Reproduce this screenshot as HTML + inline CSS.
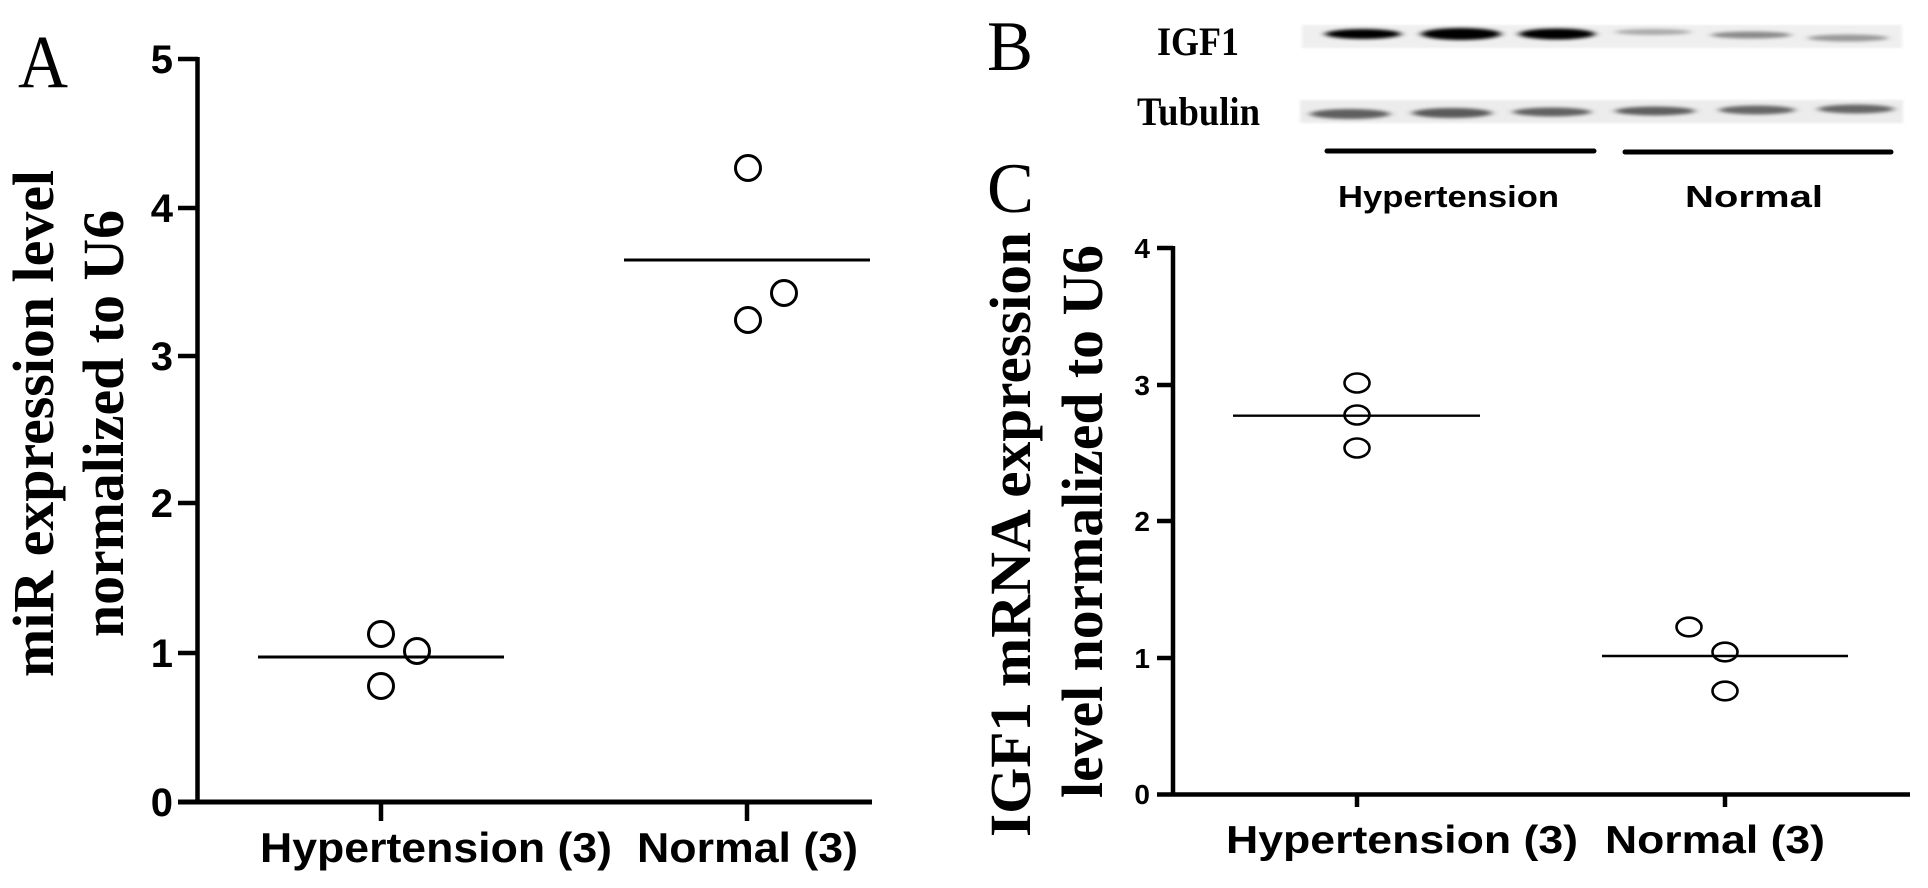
<!DOCTYPE html>
<html>
<head>
<meta charset="utf-8">
<style>
html,body{margin:0;padding:0;background:#fff;}
svg{display:block;}
</style>
</head>
<body>
<svg width="1928" height="888" viewBox="0 0 1928 888" xmlns="http://www.w3.org/2000/svg">
<defs>
  <filter id="bl" x="-20%" y="-200%" width="140%" height="500%">
    <feGaussianBlur stdDeviation="4 1.6"/>
  </filter>
  <filter id="bl2" x="-5%" y="-50%" width="110%" height="200%">
    <feGaussianBlur stdDeviation="1.5 1"/>
  </filter>
</defs>
<rect width="1928" height="888" fill="#fff"/>

<!-- ================= PANEL A ================= -->
<text x="18" y="87" font-family="Liberation Serif, serif" font-size="75" textLength="50" lengthAdjust="spacingAndGlyphs">A</text>

<g font-family="Liberation Serif, serif" font-weight="bold" font-size="58" fill="#000">
  <text transform="translate(53,677) rotate(-90)" x="0" y="0" textLength="507" lengthAdjust="spacingAndGlyphs">miR expression level</text>
  <text transform="translate(123,637) rotate(-90)" x="0" y="0" textLength="427" lengthAdjust="spacingAndGlyphs">normalized to U6</text>
</g>

<g font-family="Liberation Sans, sans-serif" font-weight="bold" font-size="40" text-anchor="end" fill="#000">
  <text x="173" y="73">5</text>
  <text x="173" y="222">4</text>
  <text x="173" y="370">3</text>
  <text x="173" y="517">2</text>
  <text x="173" y="667">1</text>
  <text x="173" y="816">0</text>
</g>

<g stroke="#000" stroke-width="4.5" fill="none">
  <line x1="197.5" y1="57" x2="197.5" y2="804"/>
  <line x1="178" y1="59" x2="198" y2="59"/>
  <line x1="178" y1="208" x2="198" y2="208"/>
  <line x1="178" y1="356" x2="198" y2="356"/>
  <line x1="178" y1="503" x2="198" y2="503"/>
  <line x1="178" y1="653" x2="198" y2="653"/>
  <line x1="178" y1="802" x2="872" y2="802" stroke-width="5"/>
  <line x1="381" y1="802" x2="381" y2="821"/>
  <line x1="747" y1="802" x2="747" y2="821"/>
</g>

<g stroke="#000" stroke-width="3" fill="none">
  <line x1="258" y1="657" x2="504" y2="657"/>
  <line x1="624" y1="260" x2="870" y2="260"/>
  <circle cx="381" cy="634" r="12.5" fill="#fff"/>
  <circle cx="417" cy="651" r="12.5" fill="#fff"/>
  <circle cx="381" cy="686" r="12.5" fill="#fff"/>
  <circle cx="748" cy="168" r="12.5" fill="#fff"/>
  <circle cx="784" cy="293" r="12.5" fill="#fff"/>
  <circle cx="748" cy="320" r="12.5" fill="#fff"/>
</g>
<line x1="258" y1="657" x2="504" y2="657" stroke="#000" stroke-width="3"/>
<line x1="624" y1="260" x2="870" y2="260" stroke="#000" stroke-width="3"/>

<g font-family="Liberation Sans, sans-serif" font-weight="bold" font-size="42" fill="#000">
  <text x="260" y="862" textLength="352" lengthAdjust="spacingAndGlyphs">Hypertension (3)</text>
  <text x="637" y="862" textLength="221" lengthAdjust="spacingAndGlyphs">Normal (3)</text>
</g>

<!-- ================= PANEL B ================= -->
<text x="987" y="70" font-family="Liberation Serif, serif" font-size="71" textLength="46" lengthAdjust="spacingAndGlyphs">B</text>
<g font-family="Liberation Serif, serif" font-weight="bold" font-size="40" fill="#000">
  <text x="1157" y="55" textLength="82" lengthAdjust="spacingAndGlyphs">IGF1</text>
  <text x="1137" y="125" textLength="123" lengthAdjust="spacingAndGlyphs">Tubulin</text>
</g>

<!-- blot strips -->
<rect x="1302" y="25" width="600" height="23" fill="#efefef" filter="url(#bl2)"/>
<rect x="1300" y="100" width="603" height="23" fill="#ececec" filter="url(#bl2)"/>

<g filter="url(#bl)">
  <ellipse cx="1363" cy="34" rx="38" ry="5" fill="#000"/>
  <ellipse cx="1461" cy="34" rx="40" ry="6" fill="#000"/>
  <ellipse cx="1557" cy="34" rx="38" ry="5.5" fill="#000"/>
  <ellipse cx="1653" cy="32" rx="38" ry="3" fill="#aaa"/>
  <ellipse cx="1751" cy="35" rx="40" ry="3.5" fill="#8a8a8a"/>
  <ellipse cx="1848" cy="38" rx="40" ry="3.5" fill="#9a9a9a"/>

  <ellipse cx="1350" cy="114" rx="40" ry="5" fill="#5e5e5e"/>
  <ellipse cx="1452" cy="113" rx="40" ry="5" fill="#5a5a5a"/>
  <ellipse cx="1552" cy="112" rx="39" ry="4.5" fill="#626262"/>
  <ellipse cx="1655" cy="111" rx="40" ry="4.5" fill="#5e5e5e"/>
  <ellipse cx="1757" cy="110" rx="38" ry="4.5" fill="#666"/>
  <ellipse cx="1856" cy="109" rx="38" ry="4.5" fill="#666"/>
</g>

<g stroke="#000" stroke-width="5" stroke-linecap="round">
  <line x1="1327" y1="151" x2="1594" y2="151"/>
  <line x1="1625" y1="152" x2="1891" y2="152"/>
</g>
<g font-family="Liberation Sans, sans-serif" font-weight="bold" font-size="31" fill="#000">
  <text x="1338" y="207" textLength="221" lengthAdjust="spacingAndGlyphs">Hypertension</text>
  <text x="1685" y="207" textLength="138" lengthAdjust="spacingAndGlyphs">Normal</text>
</g>

<!-- ================= PANEL C ================= -->
<text x="987" y="212" font-family="Liberation Serif, serif" font-size="71" textLength="47" lengthAdjust="spacingAndGlyphs">C</text>

<g font-family="Liberation Serif, serif" font-weight="bold" font-size="58" fill="#000">
  <text transform="translate(1030,837) rotate(-90)" x="0" y="0" textLength="605" lengthAdjust="spacingAndGlyphs">IGF1 mRNA expression</text>
  <text transform="translate(1102,798) rotate(-90)" x="0" y="0" textLength="553" lengthAdjust="spacingAndGlyphs">level normalized to U6</text>
</g>

<g font-family="Liberation Sans, sans-serif" font-weight="bold" font-size="28" text-anchor="end" fill="#000">
  <text x="1150" y="258">4</text>
  <text x="1150" y="395">3</text>
  <text x="1150" y="531">2</text>
  <text x="1150" y="668">1</text>
  <text x="1150" y="804">0</text>
</g>

<g stroke="#000" stroke-width="4.5" fill="none">
  <line x1="1173" y1="246" x2="1173" y2="796"/>
  <line x1="1157" y1="248" x2="1173" y2="248"/>
  <line x1="1157" y1="385" x2="1173" y2="385"/>
  <line x1="1157" y1="521" x2="1173" y2="521"/>
  <line x1="1157" y1="658" x2="1173" y2="658"/>
  <line x1="1157" y1="794.5" x2="1910" y2="794.5"/>
  <line x1="1357" y1="794" x2="1357" y2="807"/>
  <line x1="1725" y1="794" x2="1725" y2="807"/>
</g>

<g stroke="#000" stroke-width="2.6" fill="none">
  <ellipse cx="1357" cy="383" rx="12.5" ry="9.5"/>
  <ellipse cx="1357" cy="415" rx="12.5" ry="9.5"/>
  <ellipse cx="1357" cy="448" rx="12.5" ry="9.5"/>
  <ellipse cx="1689" cy="627" rx="12.5" ry="9.3"/>
  <ellipse cx="1725" cy="652" rx="12.5" ry="9.3"/>
  <ellipse cx="1725" cy="691" rx="12.5" ry="9.3"/>
  <line x1="1233" y1="415.7" x2="1480" y2="415.7" stroke-width="2.4"/>
  <line x1="1602" y1="656" x2="1848" y2="656" stroke-width="2.4"/>
</g>

<g font-family="Liberation Sans, sans-serif" font-weight="bold" font-size="39" fill="#000">
  <text x="1226" y="853" textLength="352" lengthAdjust="spacingAndGlyphs">Hypertension (3)</text>
  <text x="1605" y="853" textLength="220" lengthAdjust="spacingAndGlyphs">Normal (3)</text>
</g>
</svg>
</body>
</html>
